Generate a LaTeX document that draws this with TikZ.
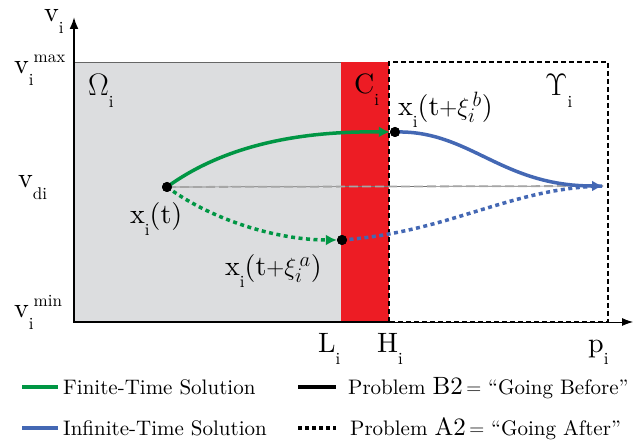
\documentclass[tikz,border=0pt]{standalone}
\usepackage{fontspec}
\usepackage{graphicx}
\setmainfont{lmroman10-regular.otf}
\usetikzlibrary{arrows.meta}
\definecolor{cgreen}{RGB}{0,150,68}
\definecolor{cblue}{RGB}{68,104,180}
\definecolor{cred}{RGB}{237,28,36}
\definecolor{cgray}{RGB}{220,221,223}
\newcommand{\lsub}[1]{\raisebox{-0.42em}{\fontsize{17}{17}\selectfont #1}}
\newcommand{\lsup}[1]{\raisebox{0.40em}{\fontsize{17}{17}\selectfont #1}}
\begin{document}
\begin{tikzpicture}[x=1pt,y=-1pt,
  lbl/.style={font=\fontsize{28}{32}\selectfont, inner sep=0pt, anchor=base west},
  leg/.style={font=\fontsize{21}{24}\selectfont, inner sep=0pt, anchor=base west},
  dot/.style={circle, fill=black, inner sep=0pt, minimum size=10pt},
  curve/.style={line width=3.5pt},
  dotcurve/.style={line width=3.5pt, dash pattern=on 4pt off 3.5pt},
  tip/.style={-{Latex[length=11pt,width=11pt]}},
  boxdash/.style={line width=1.3pt, dash pattern=on 5pt off 3pt}]
\useasboundingbox (0,0) rectangle (641,443);
% regions
\fill[cgray] (74,62) rectangle (341,322);
\draw[black!60, line width=0.8pt] (74,62) -- (341,62);
\fill[cred] (341,62) rectangle (389,322);
\draw[boxdash] (389,322) -- (389,62) -- (608,62) -- (608,322) -- cycle;
% axes
\coordinate (O) at (74,322);
\coordinate (ytop) at (74,17);
\coordinate (xend) at (633,322);
\coordinate (H) at (389,322);
\draw[line width=0.8pt, -{Latex[length=11pt,width=8pt]}] (O) -- (xend);
\draw[line width=2pt] (O) -- (H);
\draw[line width=2pt, -{Latex[length=12pt,width=9pt]}] (74,323) -- (ytop);
% points
\node[dot] (xt) at (167,187) {};
\node[dot] (xb) at (395,132) {};
\node[dot] (xa) at (342,240) {};
\coordinate (end) at (603,186);
% reference line v_di
\draw[black!55, line width=0.7pt] (xt.center) -- (end);
\draw[black!35, line width=1.8pt, dash pattern=on 9pt off 4pt] (xt.center) -- (end);
% curves
\draw[cgreen, curve, tip] (xt.center) .. controls (225,145) and (300,131) .. (xb.west);
\draw[cblue, curve, tip] (xb.center) .. controls (470,130) and (500,186) .. (end);
\draw[cgreen, dotcurve, tip] (xt.center) .. controls (215,222) and (280,240) .. (xa.west);
\draw[cblue, dotcurve] (xa.center) .. controls (450,232) and (510,188) .. (end);
\node[dot] at (xt) {};
\node[dot] at (xb) {};
\node[dot] at (xa) {};
% labels
\node[lbl] (lv) at (44,22) {v\lsub{i}};
\node[lbl] (lvmax) at (14,74) {v\lsub{i}\lsup{max}};
\node[lbl] (lvdi) at (18,188) {v\lsub{di}};
\node[lbl] (lvmin) at (14,318) {v\lsub{i}\lsup{min}};
\node[lbl] (lom) at (88,96) {\scalebox{1.25}{$\Omega$}\lsub{i}};
\node[lbl] (lc) at (354,94) {C\lsub{i}};
\node[lbl] (lu) at (545,96) {\scalebox{1.25}{$\Upsilon$}\lsub{i}};
\node[lbl] (lxb) at (398,116) {x\lsub{i}(t$+\xi_i^{\,b}$)};
\node[lbl] (lxt) at (130,224) {x\lsub{i}(t)};
\node[lbl] (lxa) at (225,276) {x\lsub{i}(t$+\xi_i^{\,a}$)};
\node[lbl] (lL) at (318,353) {L\lsub{i}};
\node[lbl] (lH) at (377,353) {H\lsub{i}};
\node[lbl] (lp) at (588,353) {p\lsub{i}};
% legend
\coordinate (g1) at (22,387); \coordinate (g2) at (58,387);
\coordinate (b1) at (22,428); \coordinate (b2) at (58,428);
\coordinate (k1) at (298,387); \coordinate (k2) at (336,387);
\coordinate (d1) at (298,428); \coordinate (d2) at (336,428);
\draw[cgreen, line width=4pt] (g1) -- (g2);
\draw[cblue, line width=4pt] (b1) -- (b2);
\draw[black, line width=4pt] (k1) -- (k2);
\draw[black, line width=4pt, dash pattern=on 4pt off 3pt] (d1) -- (d2);
\node[leg] (t1) at (63,395) {Finite-Time Solution};
\node[leg] (t2) at (63,436) {Infinite-Time Solution};
\node[leg] (t3) at (348,395) {Problem {\fontsize{25}{25}\selectfont B2}\,$=$\ “Going Before”};
\node[leg] (t4) at (350,436) {Problem {\fontsize{25}{25}\selectfont A2}\,$=$\ “Going After”};
\end{tikzpicture}
\end{document}
